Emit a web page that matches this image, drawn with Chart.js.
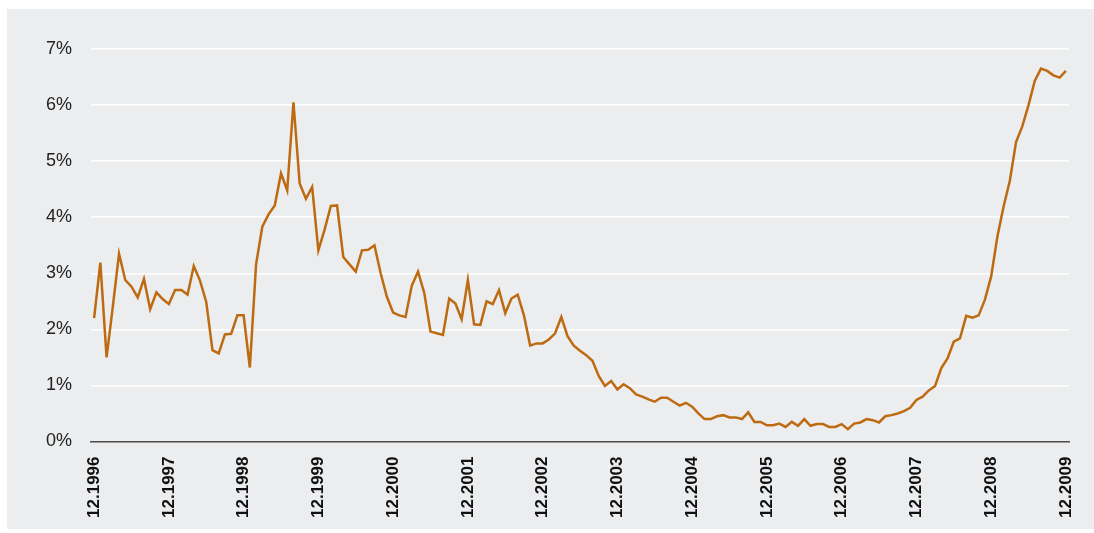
<!DOCTYPE html>
<html lang="de">
<head>
  <meta charset="UTF-8" />
  <title>Monatswerte 1996–2009</title>
  <script src="https://cdn.jsdelivr.net/npm/chart.js"></script>
  <style>
    body {
      margin: 0;
      background: #fff;
    }
    .panel {
      position: absolute;
      left: 7px;
      top: 9px;
      width: 1087px;
      height: 520px;
      background: #ecedef;
    }
    canvas {
      display: block;
    }
  </style>
</head>
<body>
  <div class="panel">
    <canvas id="rateChart" width="1087" height="520"></canvas>
  </div>

  <script>
    // Monatswerte von 12.1996 bis 12.2009 (in Prozent)
    const startYear = 1996;
    const endYear = 2009;
    const yTicks = [0, 1, 2, 3, 4, 5, 6, 7];

    const values = [
      2.20, 3.19, 1.50, 2.40, 3.35, 2.88, 2.76, 2.57, 2.90, 2.36, 2.66, 2.54,
      2.45, 2.70, 2.70, 2.62, 3.13, 2.87, 2.49, 1.63, 1.57, 1.91, 1.92, 2.25,
      2.25, 1.32, 3.16, 3.83, 4.05, 4.21, 4.78, 4.48, 6.05, 4.60, 4.33, 4.54,
      3.41, 3.78, 4.20, 4.21, 3.29, 3.16, 3.03, 3.41, 3.42, 3.50, 3.00, 2.58,
      2.30, 2.25, 2.22, 2.78, 3.03, 2.65, 1.96, 1.93, 1.90, 2.55, 2.46, 2.18,
      2.88, 2.09, 2.08, 2.50, 2.45, 2.70, 2.29, 2.55, 2.62, 2.25, 1.71, 1.75,
      1.75, 1.82, 1.93, 2.22, 1.88, 1.71, 1.62, 1.54, 1.44, 1.17, 0.99, 1.08,
      0.93, 1.02, 0.95, 0.84, 0.80, 0.75, 0.71, 0.78, 0.78, 0.71, 0.64, 0.69,
      0.62, 0.50, 0.40, 0.40, 0.45, 0.47, 0.43, 0.43, 0.40, 0.52, 0.35, 0.35,
      0.29, 0.29, 0.32, 0.26, 0.35, 0.28, 0.40, 0.28, 0.31, 0.31, 0.26, 0.26,
      0.31, 0.22, 0.32, 0.34, 0.40, 0.38, 0.34, 0.45, 0.47, 0.50, 0.54, 0.60,
      0.74, 0.80, 0.91, 0.99, 1.31, 1.48, 1.78, 1.84, 2.24, 2.21, 2.25, 2.53,
      2.94, 3.65, 4.19, 4.65, 5.34, 5.62, 6.00, 6.43, 6.65, 6.61, 6.53, 6.49,
      6.61
    ];

    // Monatslabels "MM.JJJJ"
    const labels = ['12.' + startYear];
    for (let y = startYear + 1; y <= endYear; y++) {
      for (let m = 1; m <= 12; m++) {
        labels.push(String(m).padStart(2, '0') + '.' + y);
      }
    }

    const ctx = document.getElementById('rateChart').getContext('2d');
    new Chart(ctx, {
      type: 'line',
      data: {
        labels,
        datasets: [{
          data: values,
          borderColor: '#bd6a10',
          borderWidth: 2.5,
          pointRadius: 0,
          tension: 0,
          fill: false
        }]
      },
      options: {
        responsive: false,
        animation: false,
        layout: { padding: { left: 0, right: 25, top: 40, bottom: 0 } },
        plugins: {
          legend: { display: false },
          tooltip: { enabled: false }
        },
        scales: {
          x: {
            offset: true,
            grid: { display: false, drawTicks: false },
            border: { display: true, color: '#4a4a4a', width: 1.5 },
            ticks: {
              autoSkip: false,
              maxRotation: 90,
              minRotation: 90,
              padding: 15,
              color: '#111',
              font: { family: 'Liberation Sans, Arial, sans-serif', size: 17, weight: 'bold' },
              callback: (v, i) => labels[i].startsWith('12.') ? labels[i] : ''
            },
            afterFit: s => {
              s.height = 87.5;
              s.paddingLeft = 0;
              s.paddingRight = 0;
            }
          },
          y: {
            min: 0,
            max: 7,
            afterBuildTicks: s => { s.ticks = yTicks.map(v => ({ value: v })); },
            grid: {
              drawTicks: false,
              color: c => c.tick && c.tick.value === 0 ? 'rgba(0,0,0,0)' : '#ffffff',
              lineWidth: 1.5
            },
            border: { display: false },
            ticks: {
              padding: 19,
              color: '#222',
              font: { family: 'Liberation Sans, Arial, sans-serif', size: 18 },
              callback: v => v + '%'
            },
            afterFit: s => { s.width = 84; }
          }
        }
      }
    });
  </script>
</body>
</html>
